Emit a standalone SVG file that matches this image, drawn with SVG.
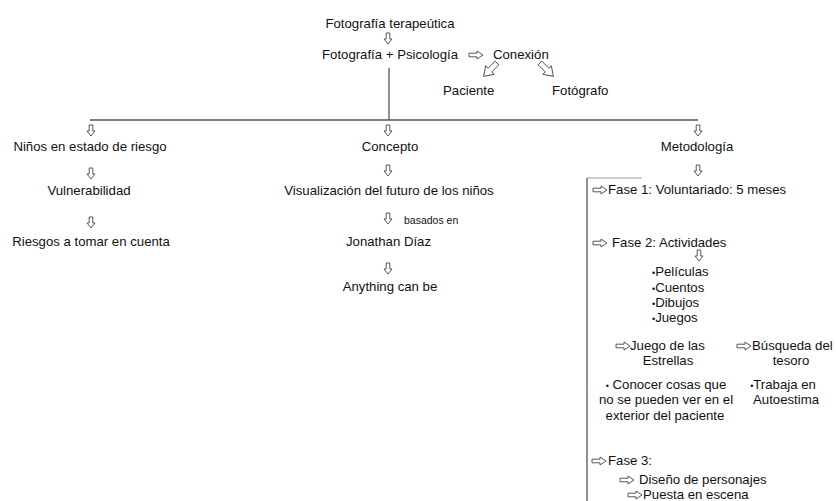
<svg xmlns="http://www.w3.org/2000/svg" xmlns:xlink="http://www.w3.org/1999/xlink" width="836" height="501" viewBox="0 0 836 501">
<style>
text{font-family:"Liberation Sans",Arial,sans-serif;font-size:13.2px;fill:#111}
.m{text-anchor:middle}
.sm{font-size:10.5px}
.ln{stroke:#555;stroke-width:1.3;fill:none}
.lt{stroke:#999;stroke-width:1;fill:none}
.ar{fill:#fff;stroke:#444;stroke-width:0.9;stroke-linejoin:miter}
.b{font-size:9px}
</style>
<defs>
<path id="dA" d="M-1.8,0 H1.8 V6 H4 L0,11 L-4,6 H-1.8 Z"/>
<path id="rA" d="M0,-1.8 H8 V-4 L14,0 L8,4 V1.8 H0 Z"/>
<path id="bA" d="M-2.6,0 H2.6 V10 H6 L0,19 L-6,10 H-2.6 Z"/>
</defs>
<rect width="836" height="501" fill="#fff"/>
<g id="connectors">
<line class="ln" x1="389" y1="68" x2="389" y2="120"/>
<line class="ln" x1="90" y1="120" x2="698" y2="120"/>
<line class="ln" x1="587" y1="178" x2="587" y2="501"/>
<line class="lt" x1="587" y1="178" x2="642" y2="178"/>
<g class="ar">
<use xlink:href="#dA" x="388" y="33"/>
<use xlink:href="#rA" x="469" y="55"/>
<use xlink:href="#bA" transform="translate(497,63) rotate(45)"/>
<use xlink:href="#bA" transform="translate(540,63) rotate(-45)"/>
<use xlink:href="#dA" x="91" y="125"/>
<use xlink:href="#dA" x="91" y="168"/>
<use xlink:href="#dA" x="91" y="217"/>
<use xlink:href="#dA" x="388" y="125"/>
<use xlink:href="#dA" x="388" y="165"/>
<use xlink:href="#dA" x="388" y="213"/>
<use xlink:href="#dA" x="388" y="263"/>
<use xlink:href="#dA" x="698" y="125"/>
<use xlink:href="#dA" x="698" y="165"/>
<use xlink:href="#dA" x="699" y="250"/>
<use xlink:href="#rA" x="593" y="190"/>
<use xlink:href="#rA" x="593" y="243"/>
<use xlink:href="#rA" x="616" y="346"/>
<use xlink:href="#rA" x="737" y="346"/>
<use xlink:href="#rA" x="592" y="461"/>
<use xlink:href="#rA" x="620" y="480"/>
<use xlink:href="#rA" x="628" y="495"/>
</g>
<text class="sm" x="404" y="224">basados en</text>
</g>
<g id="n-fototerapeutica"><text class="m" x="390" y="27.5">Fotografía terapeútica</text></g>
<g id="n-fotopsico"><text class="m" x="390" y="59">Fotografía + Psicología</text></g>
<g id="n-conexion"><text x="493" y="59">Conexión</text></g>
<g id="n-paciente"><text x="443" y="95">Paciente</text></g>
<g id="n-fotografo"><text x="552" y="95">Fotógrafo</text></g>
<g id="n-ninos"><text class="m" x="90" y="151">Niños en estado de riesgo</text></g>
<g id="n-vulnerabilidad"><text class="m" x="89" y="194.5">Vulnerabilidad</text></g>
<g id="n-riesgos"><text class="m" x="91" y="246">Riesgos a tomar en cuenta</text></g>
<g id="n-concepto"><text class="m" x="390" y="151">Concepto</text></g>
<g id="n-visualizacion"><text class="m" x="389" y="194.5">Visualización del futuro de los niños</text></g>
<g id="n-jonathan"><text class="m" x="388.5" y="246">Jonathan Díaz</text></g>
<g id="n-anything"><text class="m" x="390" y="291">Anything can be</text></g>
<g id="n-metodologia"><text class="m" x="697" y="151">Metodología</text></g>
<g id="n-fase1"><text x="608" y="194">Fase 1: Voluntariado: 5 meses</text></g>
<g id="n-fase2"><text x="612" y="247">Fase 2: Actividades</text></g>
<g id="n-actividades">
<text x="652" y="276"><tspan class="b">•</tspan>Películas</text>
<text x="652" y="291.5"><tspan class="b">•</tspan>Cuentos</text>
<text x="652" y="306.5"><tspan class="b">•</tspan>Dibujos</text>
<text x="652" y="321.5"><tspan class="b">•</tspan>Juegos</text>
</g>
<g id="n-estrellas">
<text x="630" y="350">Juego de las</text>
<text class="m" x="668" y="364.5">Estrellas</text>
</g>
<g id="n-tesoro">
<text x="752" y="350">Búsqueda del</text>
<text class="m" x="791" y="364.5">tesoro</text>
</g>
<g id="n-conocer">
<text class="m" x="666" y="389"><tspan class="b">•</tspan> Conocer cosas que</text>
<text class="m" x="666" y="404">no se pueden ver en el</text>
<text class="m" x="665" y="419.5">exterior del paciente</text>
</g>
<g id="n-autoestima">
<text class="m" x="783" y="389"><tspan class="b">•</tspan>Trabaja en</text>
<text class="m" x="786" y="404">Autoestima</text>
</g>
<g id="n-fase3"><text x="608" y="465">Fase 3:</text></g>
<g id="n-diseno"><text x="639" y="484">Diseño de personajes</text></g>
<g id="n-puesta"><text x="643" y="498.5">Puesta en escena</text></g>
</svg>
